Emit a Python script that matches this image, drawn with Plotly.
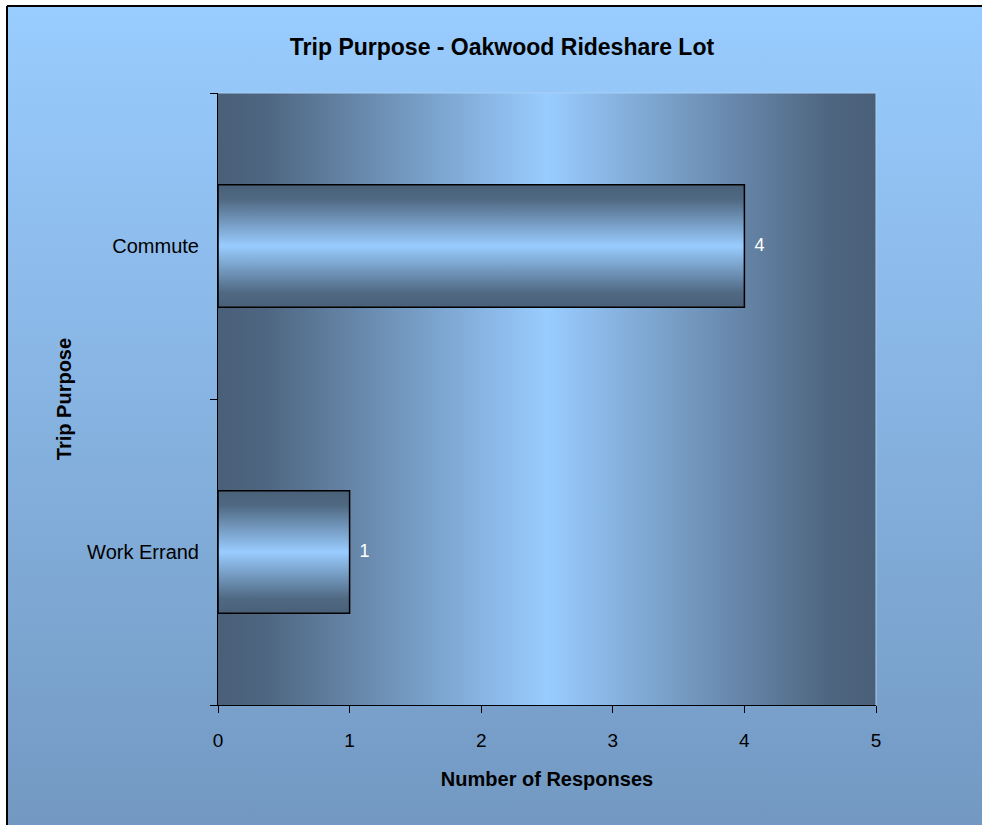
import base64
import plotly.graph_objects as go

# ---- data ----
categories = ["Commute", "Work Errand"]
responses = [4, 1]
x_ticks = [0, 1, 2, 3, 4, 5]
title_text = "Trip Purpose - Oakwood Rideshare Lot"
x_title = "Number of Responses"
y_title = "Trip Purpose"

# ---- layout geometry (pixels) ----
W, H = 982, 825
ML, MR, MT, MB = 218, 106, 93, 120
PW, PH = W - ML - MR, H - MT - MB


def px_x(px):
    return (px - ML) / PW


def px_y(py):
    return (H - MB - py) / PH


def svg_gradient(stops, vertical):
    x2, y2 = ("0", "1") if vertical else ("1", "0")
    st = "".join(f'<stop offset="{o}" stop-color="{c}"/>' for o, c in stops)
    svg = (
        '<svg xmlns="http://www.w3.org/2000/svg" width="100" height="100" '
        'viewBox="0 0 100 100" preserveAspectRatio="none">'
        f'<defs><linearGradient id="g" x1="0" y1="0" x2="{x2}" y2="{y2}">{st}'
        '</linearGradient></defs><rect width="100" height="100" fill="url(#g)"/></svg>'
    )
    return "data:image/svg+xml;base64," + base64.b64encode(svg.encode()).decode()


DARK = "#4A6079"
LIGHT = "#99CCFF"

paper_img = svg_gradient([(0, "#99CCFF"), (1, "#7399C2")], vertical=True)
plot_img = svg_gradient(
    [(0, DARK), (0.07, "#4E6580"), (0.5, LIGHT), (0.93, "#4E6580"), (1, DARK)],
    vertical=False,
)

# category positions: first category at top
n = len(categories)
ypos = [n - 1 - i for i in range(n)]
bar_w = 0.4

fig = go.Figure()

# gradient-filled bars (drawn through axes scales)
for cat, v, yp in zip(categories, responses, ypos):
    y0, y1 = yp - bar_w / 2, yp + bar_w / 2
    fig.add_trace(
        go.Scatter(
            x=[0, v, v, 0, 0],
            y=[y0, y0, y1, y1, y0],
            mode="lines",
            fill="toself",
            fillgradient=dict(
                type="vertical",
                colorscale=[
                    [0, DARK],
                    [0.12, "#506983"],
                    [0.5, LIGHT],
                    [0.88, "#506983"],
                    [1, DARK],
                ],
            ),
            line=dict(color="black", width=1.5),
            hoverinfo="skip",
            showlegend=False,
        )
    )

FONT = "Liberation Sans, Arial, sans-serif"

# value labels
fig.add_trace(
    go.Scatter(
        x=responses,
        y=ypos,
        mode="text",
        text=[f"  {v}" for v in responses],
        textposition="middle right",
        textfont=dict(family=FONT, size=18, color="white"),
        hoverinfo="skip",
        showlegend=False,
        cliponaxis=False,
    )
)

fig.update_layout(
    width=W,
    height=H,
    margin=dict(l=ML, r=MR, t=MT, b=MB, pad=0),
    paper_bgcolor="white",
    plot_bgcolor="rgba(0,0,0,0)",
    showlegend=False,
    title=dict(
        text=title_text,
        x=px_x(502),
        xref="paper",
        xanchor="center",
        y=1 - 47 / H,
        yanchor="middle",
        font=dict(family=FONT, size=23, color="black", weight="bold"),
    ),
    xaxis=dict(
        range=[x_ticks[0], x_ticks[-1]],
        tickvals=x_ticks,
        ticks="outside",
        ticklen=7,
        tickcolor="black",
        tickwidth=1,
        showline=True,
        linecolor="black",
        linewidth=1,
        showgrid=False,
        zeroline=False,
        ticklabelstandoff=11,
        tickfont=dict(family=FONT, size=19, color="black"),
        title=dict(
            text=x_title,
            font=dict(family=FONT, size=20, color="black", weight="bold"),
            standoff=22,
        ),
    ),
    yaxis=dict(
        range=[-0.5, n - 0.5],
        tickvals=ypos,
        ticktext=categories,
        ticks="",
        showline=True,
        linecolor="black",
        linewidth=1,
        showgrid=False,
        zeroline=False,
        ticklabelstandoff=14,
        tickfont=dict(family=FONT, size=20, color="black"),
        minor=dict(
            tickvals=[i - 0.5 for i in range(n + 1)],
            ticks="outside",
            ticklen=7,
            tickcolor="black",
            tickwidth=1,
            showgrid=False,
        ),
        title=dict(
            text=y_title,
            font=dict(family=FONT, size=20, color="black", weight="bold"),
            standoff=10,
        ),
    ),
    images=[
        dict(
            source=paper_img,
            xref="paper",
            yref="paper",
            x=px_x(7),
            y=px_y(6),
            sizex=px_x(W) - px_x(7),
            sizey=px_y(6) - px_y(H),
            xanchor="left",
            yanchor="top",
            sizing="stretch",
            layer="below",
        ),
        dict(
            source=plot_img,
            xref="paper",
            yref="paper",
            x=0,
            y=1,
            sizex=1,
            sizey=1,
            xanchor="left",
            yanchor="top",
            sizing="stretch",
            layer="below",
        ),
    ],
    shapes=[
        dict(type="line", xref="paper", yref="paper",
             x0=px_x(7), x1=px_x(W), y0=px_y(6), y1=px_y(6),
             line=dict(color="black", width=2)),
        dict(type="line", xref="paper", yref="paper",
             x0=px_x(7), x1=px_x(7), y0=px_y(6), y1=px_y(H),
             line=dict(color="black", width=2)),
        dict(type="line", xref="paper", yref="paper",
             x0=1, x1=1, y0=0, y1=1,
             line=dict(color="#A8D0F5", width=1)),
        dict(type="line", xref="paper", yref="paper",
             x0=0, x1=1, y0=1, y1=1,
             line=dict(color="#A8D0F5", width=1)),
    ],
)

fig.write_html(
    "out.html",
    config={"displayModeBar": False},
    post_script="document.body.style.margin='0';document.body.style.overflow='hidden';",
)
